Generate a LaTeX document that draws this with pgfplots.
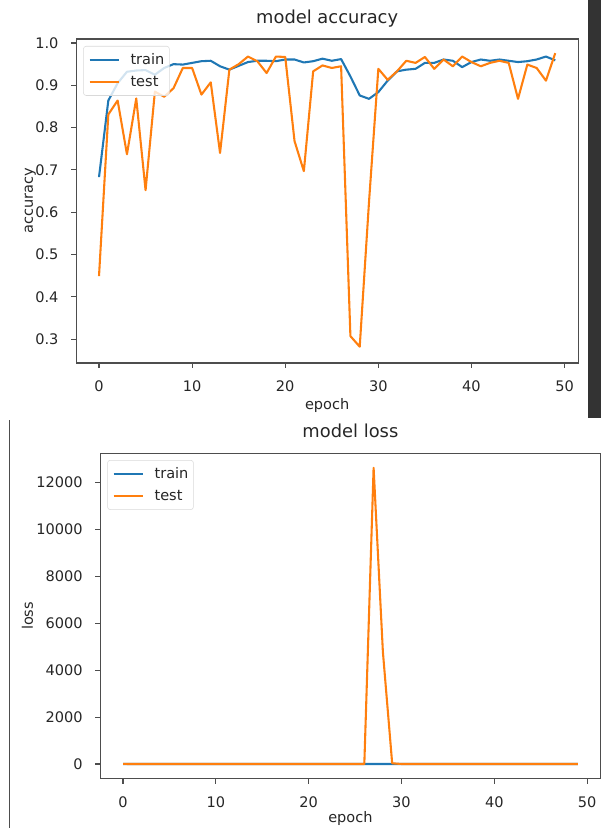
\documentclass[border=0pt]{standalone}
\usepackage{fontspec}
\setmainfont{DejaVu Sans}
\usepackage{pgfplots}
\pgfplotsset{compat=1.18}

\definecolor{mplblue}{HTML}{1F77B4}
\definecolor{mplorange}{HTML}{FF7F0E}
\definecolor{framegray}{HTML}{4D4D4D}
\definecolor{textgray}{HTML}{262626}
\definecolor{barcol}{HTML}{333333}

% accuracy per epoch
\pgfplotstableread{
epoch train test
0  0.683 0.449
1  0.864 0.831
2  0.905 0.864
3  0.932 0.737
4  0.935 0.869
5  0.936 0.652
6  0.925 0.885
7  0.941 0.873
8  0.950 0.893
9  0.949 0.941
10 0.953 0.941
11 0.957 0.878
12 0.958 0.907
13 0.945 0.740
14 0.937 0.937
15 0.946 0.950
16 0.955 0.968
17 0.958 0.957
18 0.958 0.929
19 0.957 0.968
20 0.961 0.967
21 0.961 0.768
22 0.954 0.697
23 0.957 0.933
24 0.963 0.947
25 0.958 0.941
26 0.962 0.945
27 0.921 0.307
28 0.876 0.282
29 0.868 0.625
30 0.884 0.939
31 0.911 0.913
32 0.933 0.933
33 0.937 0.958
34 0.939 0.953
35 0.953 0.967
36 0.953 0.939
37 0.961 0.961
38 0.958 0.945
39 0.943 0.968
40 0.955 0.955
41 0.961 0.945
42 0.958 0.953
43 0.961 0.958
44 0.958 0.953
45 0.955 0.868
46 0.957 0.949
47 0.961 0.941
48 0.968 0.911
49 0.959 0.976
}\acctable

% loss per epoch
\pgfplotstableread{
epoch train test
0  0.85 2.10
1  0.38 0.52
2  0.27 0.41
3  0.20 0.88
4  0.19 0.39
5  0.18 1.25
6  0.21 0.33
7  0.17 0.36
8  0.15 0.31
9  0.15 0.17
10 0.14 0.18
11 0.13 0.35
12 0.13 0.27
13 0.16 0.80
14 0.18 0.19
15 0.16 0.15
16 0.13 0.10
17 0.12 0.13
18 0.12 0.21
19 0.13 0.10
20 0.11 0.10
21 0.11 0.72
22 0.13 0.95
23 0.12 0.19
24 0.11 0.16
25 0.12 0.17
26 0.11 0.16
27 0.24 12620
28 0.37 4780
29 0.39 30.0
30 0.34 0.18
31 0.26 0.26
32 0.19 0.19
33 0.18 0.12
34 0.17 0.14
35 0.14 0.10
36 0.14 0.18
37 0.12 0.12
38 0.12 0.16
39 0.16 0.10
40 0.13 0.13
41 0.12 0.16
42 0.12 0.14
43 0.11 0.13
44 0.12 0.14
45 0.13 0.42
46 0.12 0.15
47 0.11 0.18
48 0.10 0.28
49 0.12 0.08
}\losstable

\pgfplotsset{
  mplaxis/.style={
    scale only axis,
    scaled ticks=false,
    axis line style={framegray, line width=0.8pt},
    tick pos=left,
    tick align=outside,
    major tick length=3.6pt,
    every tick/.style={framegray, line width=0.8pt},
    tick label style={font=\fontsize{10.9}{13}\selectfont, text=textgray},
    /pgf/number format/assume math mode=true,
    xticklabel style={anchor=base, inner sep=0pt, yshift=-18pt},
    yticklabel style={anchor=east, inner sep=0pt, xshift=-9.5pt},
    xmin=-2.45, xmax=51.45,
    xtick={0,10,20,30,40,50},
    xticklabels={0,10,20,30,40,50},
    title style={at={(0.5,1)}, anchor=base, yshift=5.5pt,
      font=\fontsize{13.4}{16}\selectfont, text=textgray},
    label style={font=\fontsize{10.9}{13}\selectfont, text=textgray},
    xlabel={epoch},
    legend cell align=left,
    legend image code/.code={\draw[##1] (0pt,0pt) -- (21.75pt,0pt);},
    legend style={at={(0,1)}, anchor=north west, xshift=5.25pt, yshift=-5.25pt,
      draw=black!15, fill=white, fill opacity=0.8, text opacity=1,
      rounded corners=2pt, font=\fontsize{10.9}{13}\selectfont, text=textgray,
      inner xsep=3.75pt, inner ysep=4.5pt, row sep=5pt,
      nodes={inner xsep=0pt, inner ysep=1pt},
      /tikz/every odd column/.append style={column sep=8.25pt}},
    every axis plot/.append style={line width=1.56pt, line join=round},
  },
}

\begin{document}
\begin{tikzpicture}
\path[use as bounding box] (0,0) rectangle (450.75pt,621pt);

% window chrome: scroll bar and left edge of the lower output cell
\fill[barcol] (441pt,307.5pt) rectangle (450.75pt,621pt);
\draw[framegray, line width=0.8pt] (7.1pt,0pt) -- (7.1pt,306pt);

% accuracy
\begin{axis}[mplaxis,
  at={(57.15pt,348.75pt)}, anchor=south west,
  width=376.4pt, height=243pt,
  ymin=0.2435, ymax=1.0095,
  ytick={0.3,0.4,0.5,0.6,0.7,0.8,0.9,1.0},
  yticklabels={0.3,0.4,0.5,0.6,0.7,0.8,0.9,1.0},
  title={model accuracy},
  ylabel={accuracy},
  xlabel style={at={(axis description cs:0.5,0)}, anchor=base, yshift=-35pt},
  ylabel style={at={(axis description cs:-0.0861,0.5)}, anchor=base},
]
\addplot[mplblue] table[x=epoch, y=train] {\acctable};
\addlegendentry{train}
\addplot[mplorange] table[x=epoch, y=test] {\acctable};
\addlegendentry{test}
\end{axis}

% loss
\begin{axis}[mplaxis,
  at={(75.2pt,36.9pt)}, anchor=south west,
  width=375.2pt, height=244.3pt,
  ymin=-631, ymax=13251,
  ytick={0,2000,4000,6000,8000,10000,12000},
  yticklabels={0,2000,4000,6000,8000,10000,12000},
  title={model loss},
  ylabel={loss},
  xlabel style={at={(axis description cs:0.5,0)}, anchor=base, yshift=-32.5pt},
  ylabel style={at={(axis description cs:-0.1345,0.5)}, anchor=base},
]
\addplot[mplblue] table[x=epoch, y=train] {\losstable};
\addlegendentry{train}
\addplot[mplorange] table[x=epoch, y=test] {\losstable};
\addlegendentry{test}
\end{axis}
\end{tikzpicture}
\end{document}
